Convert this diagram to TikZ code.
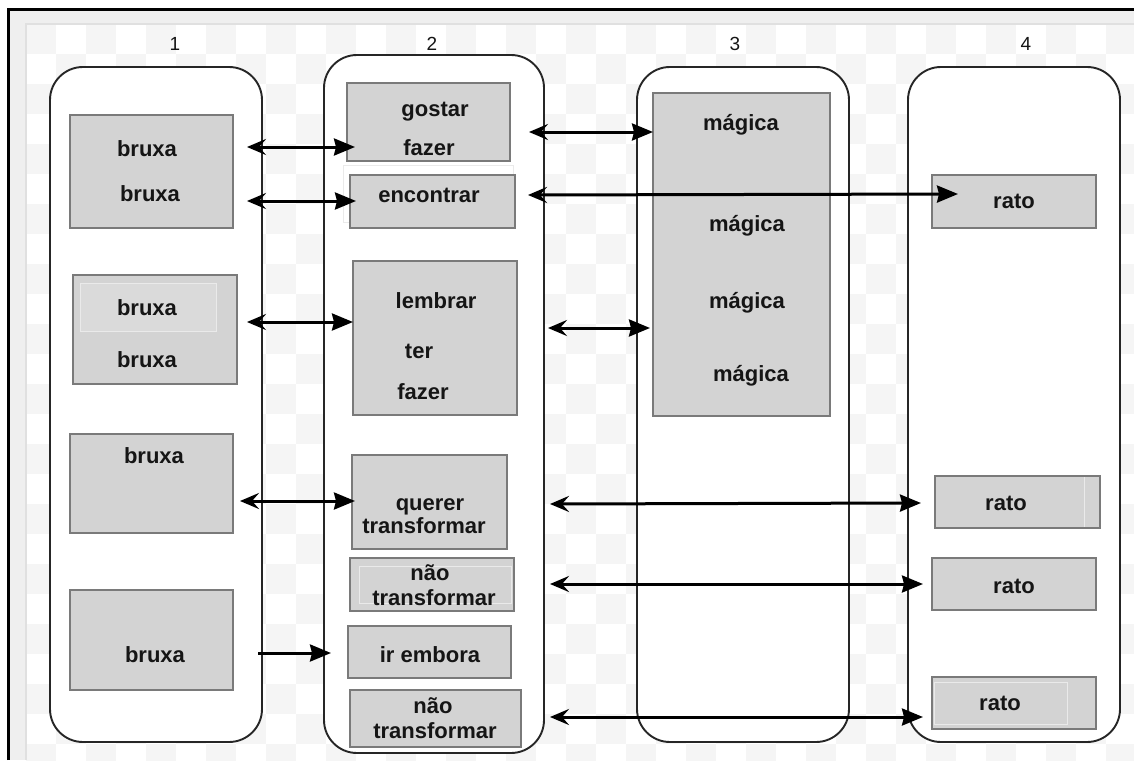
\documentclass[tikz,border=0pt]{standalone}
\usepackage{fontspec}
\setmainfont{Liberation Sans}
\usetikzlibrary{arrows.meta}
\definecolor{boxfill}{HTML}{D3D3D3}
\definecolor{boxline}{HTML}{7A7A7A}
\definecolor{chk}{HTML}{F5F5F5}
\definecolor{band}{HTML}{EFEFEF}
\definecolor{innerline}{HTML}{E0E0E0}
\definecolor{ghostline}{HTML}{EAEAEA}
\definecolor{txtcol}{HTML}{151515}
\begin{document}
\begin{tikzpicture}[x=1pt,y=-1pt,
  colbox/.style={draw=black!85, line width=1.9pt, rounded corners=33pt, fill=white, inner sep=0pt},
  graybox/.style={draw=boxline, line width=1.4pt, fill=boxfill, inner sep=0pt},
  txt/.style={font=\fontsize{22}{25}\selectfont\bfseries, text=txtcol, anchor=base, inner sep=0pt},
  collabel/.style={font=\fontsize{19}{21}\selectfont, text=txtcol, anchor=base, inner sep=0pt},
  ghost/.style={draw=ghostline, line width=1pt},
  darr/.style={line width=3pt, black, {Stealth[length=19pt,width=16pt,inset=7pt]}-{Stealth[length=21pt,width=17pt,inset=2pt]}},
  sarr/.style={line width=3pt, black, -{Stealth[length=21pt,width=17pt,inset=2pt]}}
]
\useasboundingbox (0,0) rectangle (1134,760);
% background and frame
\fill[white] (0,0) rectangle (1134,760);
\fill[band] (8,10) rectangle (1134,760);
\fill[white] (26,24) rectangle (1134,760);
\begin{scope}
\clip (26,24) rectangle (1134,760);
\foreach \xx in {26,86,...,1106} {
  \foreach \yy in {24,84,...,744} {
    \fill[chk] (\xx,\yy) rectangle ++(30,30);
    \fill[chk] (\xx+30,\yy+30) rectangle ++(30,30);
  }
}
\end{scope}
\draw[innerline, line width=2pt] (26,760) -- (26,24) -- (1134,24);
\draw[black, line width=3pt] (8,760) -- (8,10) -- (1134,10);

% column labels
\node[collabel] (l1) at (175,51) {1};
\node[collabel] (l2) at (432,51) {2};
\node[collabel] (l3) at (735,51) {3};
\node[collabel] (l4) at (1026,51) {4};

% columns
\node[colbox, minimum width=212pt, minimum height=675pt] (c1) at (156,404.5) {};
\node[colbox, minimum width=220pt, minimum height=698pt] (c2) at (434,404) {};
\node[colbox, minimum width=212pt, minimum height=675pt] (c3) at (743,404.5) {};
\node[colbox, minimum width=212pt, minimum height=675pt] (c4) at (1014,404.5) {};

% column 1 boxes
\node[graybox, minimum width=163pt, minimum height=113pt] (B1) at (151.5,171.5) {};
\node[graybox, minimum width=164pt, minimum height=109pt] (B2) at (155,329.5) {};
\draw[ghost, fill=boxfill!85!white] (80,283) rectangle (216,331);
\node[graybox, minimum width=163pt, minimum height=99pt] (B3) at (151.5,483.5) {};
\node[graybox, minimum width=163pt, minimum height=100pt] (B4) at (151.5,640) {};

% column 2 boxes
\node[graybox, minimum width=163pt, minimum height=78pt] (G1) at (428.5,122) {};
\draw[ghost, fill=white] (343,165) rectangle (513,222);
\node[graybox, minimum width=165pt, minimum height=53pt] (G2) at (432.5,201.5) {};
\node[graybox, minimum width=164pt, minimum height=154pt] (G3) at (435,338) {};
\node[graybox, minimum width=155pt, minimum height=94pt] (G4) at (429.5,502) {};
\node[graybox, minimum width=164pt, minimum height=53pt] (G5) at (432,584.5) {};
\draw[ghost] (359,566) rectangle (511,603);
\node[graybox, minimum width=163pt, minimum height=52pt] (G6) at (429.5,652) {};
\node[graybox, minimum width=171pt, minimum height=57pt] (G7) at (435.5,718.5) {};

% column 3 box
\node[graybox, minimum width=177pt, minimum height=323pt] (M) at (741.5,254.5) {};

% column 4 boxes
\node[graybox, minimum width=164pt, minimum height=53pt] (R1) at (1014,201.5) {};
\node[graybox, minimum width=165pt, minimum height=52pt] (R2) at (1017.5,502) {};
\draw[ghost] (1084,477) -- (1084,527);
\node[graybox, minimum width=164pt, minimum height=52pt] (R3) at (1014,584) {};
\node[graybox, minimum width=164pt, minimum height=52pt] (R4) at (1014,703) {};
\draw[ghost] (934,682) rectangle (1067,724);

% texts
\node[txt] (b1a) at (147,156) {bruxa};
\node[txt] (b1b) at (150,201) {bruxa};
\node[txt] (b2a) at (147,315) {bruxa};
\node[txt] (b2b) at (147,367) {bruxa};
\node[txt] (b3a) at (154,463) {bruxa};
\node[txt] (b4a) at (155,662) {bruxa};
\node[txt] (g1a) at (435,116) {gostar};
\node[txt] (g1b) at (429,155) {fazer};
\node[txt] (g2a) at (429,202) {encontrar};
\node[txt] (g3a) at (436,308) {lembrar};
\node[txt] (g3b) at (419,358) {ter};
\node[txt] (g3c) at (423,399) {fazer};
\node[txt] (g4a) at (430,510) {querer};
\node[txt] (g4b) at (424,533) {transformar};
\node[txt] (g5a) at (430,580) {não};
\node[txt] (g5b) at (434,605) {transformar};
\node[txt] (g6a) at (430,662) {ir embora};
\node[txt] (g7a) at (433,713) {não};
\node[txt] (g7b) at (435,738) {transformar};
\node[txt] (m1) at (741,130) {mágica};
\node[txt] (m2) at (747,231) {mágica};
\node[txt] (m3) at (747,308) {mágica};
\node[txt] (m4) at (751,381) {mágica};
\node[txt] (r1) at (1014,208) {rato};
\node[txt] (r2) at (1006,510) {rato};
\node[txt] (r3) at (1014,593) {rato};
\node[txt] (r4) at (1000,710) {rato};

% arrow end points
\coordinate (a1l) at (247,147);  \coordinate (a1r) at (355,147);
\coordinate (a2l) at (247,201);  \coordinate (a2r) at (356,201);
\coordinate (a3l) at (529,132);  \coordinate (a3r) at (653,132);
\coordinate (a4l) at (528,195);  \coordinate (a4r) at (958,194);
\coordinate (a5l) at (247,322);  \coordinate (a5r) at (353,322);
\coordinate (a6l) at (548,328);  \coordinate (a6r) at (650,328);
\coordinate (a7l) at (240,501);  \coordinate (a7r) at (355,501);
\coordinate (a8l) at (550,504);  \coordinate (a8r) at (921,503);
\coordinate (a9l) at (550,584);  \coordinate (a9r) at (923,584);
\coordinate (a10l) at (258,653); \coordinate (a10r) at (331,653);
\coordinate (a11l) at (550,717); \coordinate (a11r) at (923,717);

% connectors
\draw[darr] (a1l) -- (a1r);
\draw[darr] (a2l) -- (a2r);
\draw[darr] (a3l) -- (a3r);
\draw[darr] (a4l) -- (a4r);
\draw[darr] (a5l) -- (a5r);
\draw[darr] (a6l) -- (a6r);
\draw[darr] (a7l) -- (a7r);
\draw[darr] (a8l) -- (a8r);
\draw[darr] (a9l) -- (a9r);
\draw[sarr] (a10l) -- (a10r);
\draw[darr] (a11l) -- (a11r);
\end{tikzpicture}
\end{document}
